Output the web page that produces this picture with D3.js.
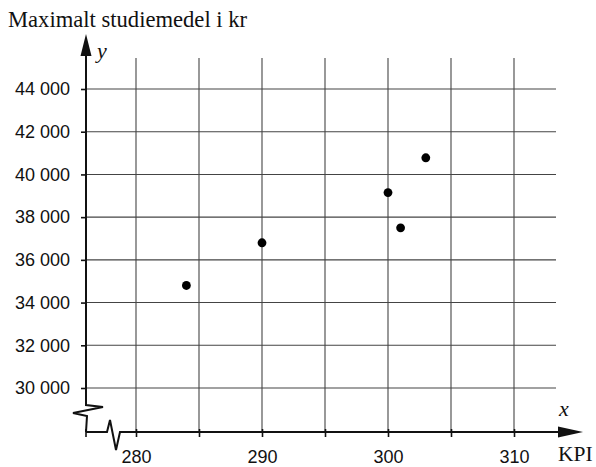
<!DOCTYPE html>
<html lang="sv">
<head>
<meta charset="UTF-8">
<title>Maximalt studiemedel och KPI</title>
<script src="https://d3js.org/d3.v7.min.js"></script>
<style>
  body { margin: 0; background: #fff; }
  .tick text { font-family: "Liberation Sans", Arial, sans-serif; font-size: 18px; fill: #111; }
  .serif { font-family: "Liberation Serif", "Times New Roman", serif; fill: #111; }
</style>
</head>
<body>
<svg id="plot" width="596" height="467"></svg>
<script>
// data
const kpi = [284, 290, 300, 301, 303];
const studiemedel = [34800, 36800, 39150, 37500, 40780];
const xTicks = [280, 285, 290, 295, 300, 305, 310];
const xLabels = [280, 290, 300, 310];
const yTicks = [30000, 32000, 34000, 36000, 38000, 40000, 42000, 44000];

const svg = d3.select("#plot");

const x = d3.scaleLinear().domain([280, 310]).range([136, 514]);
const y = d3.scaleLinear().domain([30000, 44000]).range([388, 89]);

const x0 = 86;   // y axis position
const y0 = 432;  // x axis position
const gridRight = 556, gridTop = 58;

// grid
const grid = svg.append("g").attr("stroke", "#444").attr("stroke-width", 1.1);
grid.selectAll(".v").data(xTicks).join("line")
  .attr("x1", d => x(d)).attr("x2", d => x(d))
  .attr("y1", gridTop).attr("y2", y0);
grid.selectAll(".h").data(yTicks).join("line")
  .attr("x1", x0).attr("x2", gridRight)
  .attr("y1", d => y(d)).attr("y2", d => y(d));

// y axis ticks and labels
const yAxis = d3.axisLeft(y).tickValues(yTicks).tickSize(5).tickPadding(11)
  .tickFormat(d => d3.format(",")(d).replace(",", " "));
svg.append("g").attr("transform", `translate(${x0},0)`).call(yAxis)
  .call(g => g.select(".domain").remove())
  .call(g => g.selectAll(".tick line").attr("stroke", "#111").attr("stroke-width", 1.6));

// x axis ticks and labels
const xAxis = d3.axisBottom(x).tickValues(xTicks).tickSize(5).tickPadding(13)
  .tickFormat(d => xLabels.includes(d) ? d : "");
svg.append("g").attr("transform", `translate(0,${y0})`).call(xAxis)
  .call(g => g.select(".domain").remove())
  .call(g => g.selectAll(".tick line").attr("y1", -3).attr("stroke", "#111").attr("stroke-width", 1.6));

// axes lines with breaks
const ax = svg.append("g").attr("fill", "none").attr("stroke", "#111").attr("stroke-width", 2);
ax.append("path").attr("d", d3.line()([
  [x0, 55], [x0, 405], [x0 + 17, 407], [x0 - 13, 413], [x0 + 1, 416], [x0, y0]
]));
ax.append("path").attr("d", d3.line()([
  [x0, y0], [107, y0], [110, 420], [116, 450], [120, y0], [562, y0]
]));
// origin tick
ax.append("line").attr("x1", x0).attr("x2", x0).attr("y1", y0 - 3).attr("y2", y0 + 5).attr("stroke-width", 1.6);

// arrowheads
svg.append("path").attr("fill", "#111")
  .attr("d", `M${x0},34 L${x0 - 5.5},56 L${x0 + 5.5},56 Z`);
svg.append("path").attr("fill", "#111")
  .attr("d", `M583,${y0} L558,${y0 - 5.5} L558,${y0 + 5.5} Z`);

// points
svg.append("g").selectAll("circle").data(kpi).join("circle")
  .attr("cx", d => x(d))
  .attr("cy", (d, i) => y(studiemedel[i]))
  .attr("r", 4.4)
  .attr("fill", "#000");

// labels
svg.append("text").attr("class", "serif").attr("x", 8).attr("y", 27)
  .attr("font-size", 22.6).text("Maximalt studiemedel i kr");
svg.append("text").attr("class", "serif").attr("x", 97).attr("y", 58)
  .attr("font-size", 22).attr("font-style", "italic").text("y");
svg.append("text").attr("class", "serif").attr("x", 559).attr("y", 416)
  .attr("font-size", 22).attr("font-style", "italic").text("x");
svg.append("text").attr("class", "serif").attr("x", 558).attr("y", 461)
  .attr("font-size", 21.5).text("KPI");
</script>
</body>
</html>
